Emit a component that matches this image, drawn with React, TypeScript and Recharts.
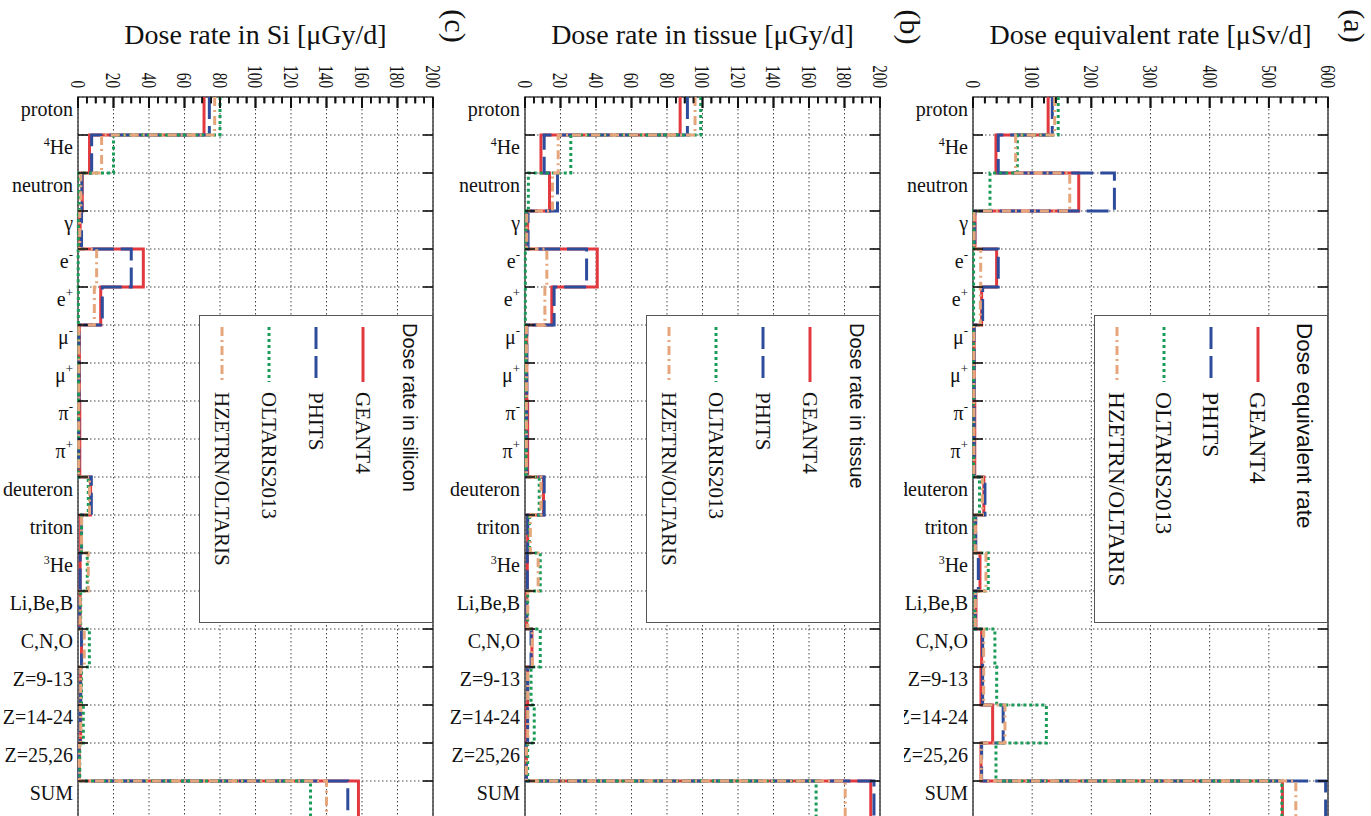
import { LineChart, Line, XAxis, YAxis, CartesianGrid, ReferenceArea, ReferenceLine, Legend } from 'recharts'

// particle categories, top to bottom
const categories = [
  'proton', '4He', 'neutron', 'γ', 'e-', 'e+', 'μ-', 'μ+', 'π-', 'π+',
  'deuteron', 'triton', '3He', 'Li,Be,B', 'C,N,O', 'Z=9-13', 'Z=14-24', 'Z=25,26', 'SUM',
]

const seriesNames = ['GEANT4', 'PHITS', 'OLTARIS2013', 'HZETRN/OLTARIS']

const gyTicks = [0, 20, 40, 60, 80, 100, 120, 140, 160, 180, 200]
const svTicks = [0, 100, 200, 300, 400, 500, 600]

// (c) dose rate in Si [uGy/d]
const geant4Si = [71, 6.5, 2.4, 1.2, 36.8, 12.8, 0.8, 0.8, 1, 1, 7.1, 1.5, 1.2, 1.2, 2, 1.5, 1.5, 0.8, 158]
const phitsSi = [74, 7.7, 2.2, 2, 30, 13.7, 0.6, 0.6, 0.5, 0.5, 7.5, 2, 1.2, 1, 2, 1.5, 1.2, 0.6, 152]
const oltarisSi = [80, 20, 0.6, 0.2, 0.1, 0.2, 0.3, 0.3, 0.3, 0.3, 5.8, 2, 5.2, 1.5, 6.4, 2, 3, 1, 131]
const hzetrnSi = [77, 13.3, 1.6, 1, 10.5, 9.2, 0.5, 0.5, 0.4, 0.4, 6.5, 2, 5.8, 1.2, 3.5, 1.5, 1.5, 0.8, 140]

// (b) dose rate in tissue [uGy/d]
const geant4Tissue = [87.4, 9, 13.8, 1.5, 40.7, 15.1, 1, 1, 1.5, 1.5, 10.4, 1.5, 1.3, 1, 3.9, 1.5, 1, 0.8, 194.8]
const phitsTissue = [91.5, 10.8, 18.3, 1.7, 34.7, 16.4, 1, 1, 1, 1, 10.8, 1.5, 1.3, 1, 3.4, 1.5, 1.5, 0.8, 196.6]
const oltarisTissue = [99, 25.8, 1.9, 0.5, 0.2, 0.2, 0.5, 0.5, 0.5, 0.5, 8, 2.5, 8.6, 1.5, 8.6, 3.4, 5.2, 1.5, 164]
const hzetrnTissue = [95.8, 18.7, 15.5, 1, 12.3, 11.2, 0.8, 0.8, 0.8, 0.8, 9, 3, 7.4, 1.5, 4, 1.5, 1.5, 0.8, 180.4]

// (a) dose equivalent rate [uSv/d]
const geant4Sv = [127, 38.8, 178.7, 3.4, 39.9, 14.6, 2, 2, 3, 3, 18.3, 4.5, 11.8, 5, 14.6, 13.5, 33.2, 13.5, 523]
const phitsSv = [134, 42.7, 239, 3, 42.7, 16.3, 2, 2, 2, 2, 20.2, 4.5, 9, 4, 16.3, 16.3, 51, 14.6, 596]
const oltarisSv = [144, 75, 28.7, 1.5, 1, 1, 1, 1, 1, 1, 11, 2, 25.8, 3, 37, 40, 124, 38.8, 522]
const hzetrnSv = [138, 72, 163.5, 2, 13, 12.4, 1.5, 1.5, 1.5, 1.5, 16, 4, 21.9, 4, 18, 18, 54, 14, 545.6]

const lineStyles: Record<string, { color: string; dash?: string }> = {
  GEANT4: { color: '#e2393f' },
  PHITS: { color: '#2d4c9c', dash: '22 7' },
  OLTARIS2013: { color: '#1b9b58', dash: '3 3' },
  'HZETRN/OLTARIS': { color: '#e6a67b', dash: '9 4 2 4' },
}

const SERIF = '"Liberation Serif", "Times New Roman", serif'
const SANS = '"Liberation Sans", Arial, sans-serif'
const TICK_COLOR = '#111'

const CHART_W = 450
const CHART_H = 830
// one 1px axis on top, 10px + 60px axes on the left => plot box starts at (78, 97)
const MARGIN = { top: 96, left: 8, right: 17, bottom: 11 }
const PLOT_LEFT = 78
const PLOT_TOP = 97
const PLOT_RIGHT = CHART_W - MARGIN.right
// top tick lengths, in category-band units (one band is ~38px)
const MAJOR_LEN = 0.29
const MINOR_LEN = 0.17

const chartRows = categories.map((name, i) => ({ name, pos: i + 0.5 }))

// histogram steps: each value held across its whole category band
function toSteps(values: number[]) {
  return values.flatMap((v, i) => [
    { pos: i, v },
    { pos: i + 1, v },
  ])
}

function CategoryLabel({ y, payload }: any) {
  const name = categories[Math.floor(payload.value)]
  let pre = ''
  let base = name
  let post = ''
  if (name === '4He' || name === '3He') {
    pre = name[0]
    base = 'He'
  } else if (/^[eμπ][+-]$/.test(name)) {
    base = name[0]
    post = name[1]
  }
  return (
    <text x={PLOT_LEFT - 5} y={y} dy="0.35em" textAnchor="end" fontFamily={SERIF} fontSize={20} fill="#111">
      {pre && <tspan fontSize={12} dy={-8}>{pre}</tspan>}
      <tspan dy={pre ? 8 : 0}>{base}</tspan>
      {post && <tspan fontSize={13} dy={-9}>{post}</tspan>}
    </text>
  )
}

// inward tick at a category boundary; the first one also carries the top axis ticks
function BoundaryTick({ y, payload, max, majorTicks, minorTicks }: any) {
  const span = PLOT_RIGHT - PLOT_LEFT
  return (
    <g>
      <line x1={PLOT_LEFT} x2={PLOT_LEFT + 10} y1={y} y2={y} stroke={TICK_COLOR} strokeWidth={1.6} />
      <line x1={PLOT_RIGHT} x2={PLOT_RIGHT - 10} y1={y} y2={y} stroke={TICK_COLOR} strokeWidth={1.6} />
      {payload.value === 1 &&
        minorTicks.map((t: number) => {
          const tx = PLOT_LEFT + (t / max) * span
          const len = majorTicks.includes(t) ? 11 : 6
          return (
            <line
              key={t}
              x1={tx}
              x2={tx}
              y1={PLOT_TOP}
              y2={PLOT_TOP + len}
              stroke={TICK_COLOR}
              strokeWidth={1.8}
            />
          )
        })}
    </g>
  )
}

function ValueLabel({ x, payload }: any) {
  const ty = PLOT_TOP - 9
  return (
    <text
      x={0}
      y={0}
      dy="0.35em"
      textAnchor="end"
      transform={`translate(${x}, ${ty}) rotate(90) scale(0.76, 1)`}
      fontFamily={SERIF}
      fontSize={20}
      fill="#111"
    >
      {payload.value}
    </text>
  )
}

function LegendBox({ title, payload, scale }: { title: string; payload?: any[]; scale: number }) {
  const items = seriesNames.map((name) => {
    const hit = (payload ?? []).find((p) => p.value === name)
    return { name, color: hit?.color ?? lineStyles[name].color }
  })
  return (
    <div style={{ width: 234, height: 308, boxSizing: 'border-box', border: '1.5px solid #555', background: '#fff' }}>
      <svg width={231} height={305} style={{ display: 'block' }}>
        <text
          x={210}
          y={7}
          dy="0.35em"
          transform="rotate(90, 210, 7)"
          fontFamily={SANS}
          fontSize={20 * scale}
          fill="#111"
        >
          {title}
        </text>
        {items.map((item, i) => {
          const cx = 163 - i * 47
          return (
            <g key={item.name}>
              <line
                x1={cx}
                x2={cx}
                y1={11}
                y2={66}
                stroke={item.color}
                strokeWidth={3}
                strokeDasharray={lineStyles[item.name].dash}
              />
              <text
                x={cx}
                y={76}
                dy="0.35em"
                transform={`rotate(90, ${cx}, 76)`}
                fontFamily={SERIF}
                fontSize={21 * scale}
                fill="#111"
              >
                {item.name}
              </text>
            </g>
          )
        })}
      </svg>
    </div>
  )
}

interface PanelProps {
  legendTitle: string
  legendScale: number
  max: number
  majorTicks: number[]
  minorStep: number
  series: number[][]
}

function Panel({ legendTitle, legendScale, max, majorTicks, minorStep, series }: PanelProps) {
  const minorTicks: number[] = []
  for (let t = 0; t <= max; t += minorStep) minorTicks.push(t)
  const boundaries = categories.slice(1).map((_, i) => i + 1)
  const centers = categories.map((_, i) => i + 0.5)

  return (
    <LineChart width={CHART_W} height={CHART_H} layout="vertical" margin={MARGIN} data={chartRows}>
      <CartesianGrid
        xAxisId="maj"
        yAxisId="g"
        stroke="#444"
        strokeWidth={1}
        strokeDasharray="1.5 2.5"
      />
      <XAxis
        xAxisId="maj"
        type="number"
        orientation="top"
        domain={[0, max]}
        ticks={majorTicks}
        interval={0}
        height={1}
        tickSize={0}
        tickMargin={0}
        axisLine={false}
        tickLine={false}
        tick={(p: any) => <ValueLabel {...p} />}
      />
      <YAxis
        yAxisId="g"
        type="number"
        dataKey="pos"
        domain={[0, categories.length]}
        ticks={boundaries}
        interval={0}
        width={10}
        tickSize={0}
        tickMargin={0}
        axisLine={false}
        tickLine={false}
        tick={(p: any) => (
          <BoundaryTick {...p} max={max} majorTicks={majorTicks} minorTicks={minorTicks} />
        )}
      />
      <YAxis
        yAxisId="lab"
        type="number"
        dataKey="pos"
        domain={[0, categories.length]}
        ticks={centers}
        interval={0}
        width={60}
        tickSize={0}
        tickMargin={0}
        axisLine={false}
        tickLine={false}
        tick={(p: any) => <CategoryLabel {...p} />}
      />
      <ReferenceArea
        xAxisId="maj"
        yAxisId="g"
        x1={0}
        x2={max}
        y1={0}
        y2={categories.length}
        fill="none"
        stroke="#444"
        strokeWidth={1.5}
        ifOverflow="visible"
      />
      {minorTicks.map((t) => {
        const len = majorTicks.includes(t) ? MAJOR_LEN : MINOR_LEN
        return (
          <ReferenceLine
            key={`t${t}`}
            xAxisId="maj"
            yAxisId="g"
            segment={[{ x: t, y: 0 }, { x: t, y: len }]}
            stroke={TICK_COLOR}
            strokeWidth={1.8}
            ifOverflow="visible"
          />
        )
      })}
      {series.map((values, i) => {
        const name = seriesNames[i]
        const st = lineStyles[name]
        return (
          <Line
            key={name}
            name={name}
            xAxisId="maj"
            yAxisId="g"
            data={toSteps(values)}
            dataKey="v"
            type="linear"
            stroke={st.color}
            strokeWidth={3}
            strokeDasharray={st.dash}
            dot={false}
            activeDot={false}
            isAnimationActive={false}
          />
        )
      })}
      <Legend
        layout="vertical"
        align="center"
        verticalAlign="middle"
        wrapperStyle={{ left: 199, top: 315, width: 234, height: 308 }}
        content={(p: any) => <LegendBox title={legendTitle} payload={p.payload} scale={legendScale} />}
      />
    </LineChart>
  )
}

const plotCenter = (PLOT_LEFT + PLOT_RIGHT) / 2

export default function App() {
  return (
    <div style={{ position: 'absolute', left: 0, top: 0, width: 1371, height: 816, overflow: 'hidden', background: '#fff' }}>
      <div style={{ position: 'absolute', left: 0, top: 0 }}>
        <Panel
          legendTitle="Dose rate in silicon"
          legendScale={1}
          max={200}
          majorTicks={gyTicks}
          minorStep={5}
          series={[geant4Si, phitsSi, oltarisSi, hzetrnSi]}
        />
      </div>
      <div style={{ position: 'absolute', left: 447, top: 0 }}>
        <Panel
          legendTitle="Dose rate in tissue"
          legendScale={1}
          max={200}
          majorTicks={gyTicks}
          minorStep={5}
          series={[geant4Tissue, phitsTissue, oltarisTissue, hzetrnTissue]}
        />
      </div>
      <div style={{ position: 'absolute', left: 904, top: 0, width: 467, height: 816, overflow: 'hidden' }}>
        <div style={{ position: 'absolute', left: -9, top: 0 }}>
          <Panel
            legendTitle="Dose equivalent rate"
            legendScale={1.12}
            max={600}
            majorTicks={svTicks}
            minorStep={20}
            series={[geant4Sv, phitsSv, oltarisSv, hzetrnSv]}
          />
        </div>
      </div>
      <svg width={1371} height={60} style={{ position: 'absolute', left: 0, top: 0, pointerEvents: 'none' }}>
        <g fontFamily={SERIF} fontSize={28} fill="#111" textAnchor="middle">
          <text x={plotCenter} y={44}>Dose rate in Si [μGy/d]</text>
          <text x={447 + plotCenter} y={44}>Dose rate in tissue [μGy/d]</text>
          <text x={895 + plotCenter} y={44}>Dose equivalent rate [μSv/d]</text>
        </g>
        <g fontFamily={SERIF} fontSize={30} fill="#111" textAnchor="middle">
          <text x={455} y={26} dy="0.35em" transform="rotate(90, 455, 26)">(c)</text>
          <text x={910} y={27} dy="0.35em" transform="rotate(90, 910, 27)">(b)</text>
          <text x={1354} y={26} dy="0.35em" transform="rotate(90, 1354, 26)">(a)</text>
        </g>
      </svg>
    </div>
  )
}
